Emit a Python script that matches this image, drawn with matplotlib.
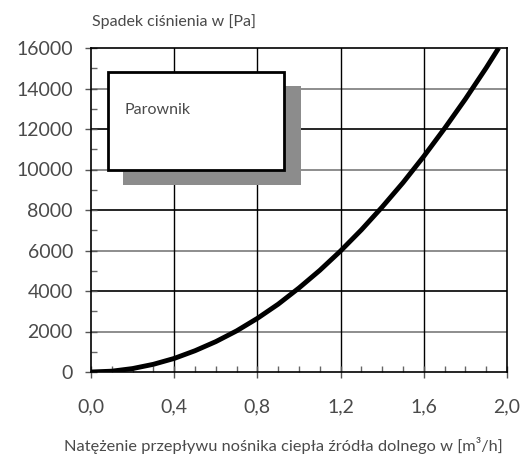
import matplotlib

matplotlib.use("Agg")
import matplotlib.pyplot as plt
from matplotlib.patches import Rectangle
from matplotlib.ticker import MultipleLocator

flow = [0.0, 0.1, 0.2, 0.3, 0.4, 0.5, 0.6, 0.7, 0.8, 0.9, 1.0, 1.1, 1.2, 1.3, 1.4, 1.5, 1.6, 1.7, 1.8, 1.9, 1.96]
dp = [0, 40, 170, 380, 670, 1050, 1500, 2030, 2650, 3350, 4150, 5020, 5980, 7020, 8150, 9350, 10650, 12030, 13480, 15020, 16000]
x_ticks = [0.0, 0.4, 0.8, 1.2, 1.6, 2.0]
x_labels = ["0,0", "0,4", "0,8", "1,2", "1,6", "2,0"]
y_ticks = [0, 2000, 4000, 6000, 8000, 10000, 12000, 14000, 16000]
label = "Parownik"

TXT = "#4a4a4a"
plt.rcParams["font.family"] = ["Lato", "DejaVu Sans"]
plt.rcParams["font.weight"] = "normal"

fig = plt.figure(figsize=(5.25, 4.62), dpi=100)
ax = fig.add_axes([91 / 525, 1 - 372 / 462, 416 / 525, 324 / 462])
ax.set_xlim(0, 2.0)
ax.set_ylim(0, 16000)

for y in y_ticks[1:-1]:
    ax.axhline(y, color="black" if y % 4000 == 0 else "#7a7a7a", lw=1.2, zorder=1)
for x in x_ticks[1:-1]:
    ax.axvline(x, color="black", lw=1.0, zorder=1)

# shadowed label box
ax.add_patch(Rectangle((0.154, 9235), 0.856, 4890, facecolor="#8c8c8c", edgecolor="none", zorder=2))
ax.add_patch(Rectangle((0.082, 9975), 0.846, 4840, facecolor="white", edgecolor="black", lw=2, zorder=3))
ax.text(0.16, 12950, label, fontsize=11.5, color=TXT, va="center", zorder=4)

ax.plot(flow, dp, color="black", lw=3.5, zorder=5, solid_capstyle="butt")

ax.set_xticks(x_ticks)
ax.set_xticklabels(x_labels)
ax.set_yticks(y_ticks)
ax.xaxis.set_minor_locator(MultipleLocator(0.1))
ax.yaxis.set_minor_locator(MultipleLocator(1000))
ax.tick_params(which="major", length=8, width=1, color="#555555", direction="inout",
               labelsize=14, labelcolor=TXT)
ax.tick_params(axis="x", which="major", pad=15)
ax.tick_params(axis="y", which="major", pad=9)
ax.tick_params(which="minor", length=4, width=1, color="#666666", direction="in")
for s in ax.spines.values():
    s.set_linewidth(1.2)

fig.text(92 / 525, 1 - 22 / 462, "Spadek ciśnienia w [Pa]", fontsize=11.5, color=TXT, va="center")
fig.text(283 / 525, 1 - 446 / 462, "Natężenie przepływu nośnika ciepła źródła dolnego w [m³/h]",
         fontsize=11.8, color=TXT, ha="center", va="center")

fig.savefig("out.png", dpi=100, facecolor="white")
